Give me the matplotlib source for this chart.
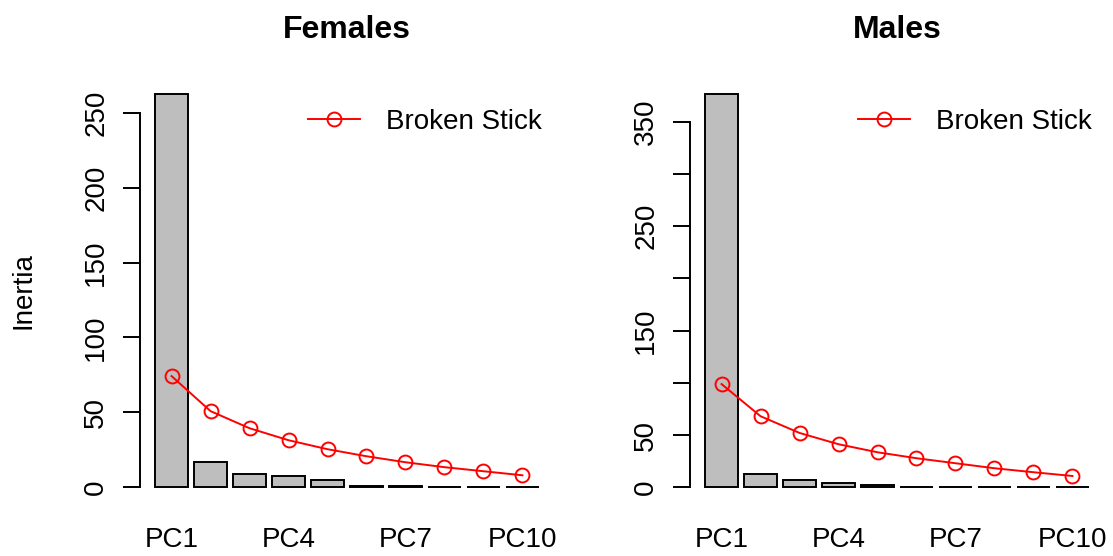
import numpy as np
import matplotlib.pyplot as plt

plt.rcParams['font.family'] = ['Liberation Sans', 'DejaVu Sans']

# data
components = ['PC1', 'PC2', 'PC3', 'PC4', 'PC5', 'PC6', 'PC7', 'PC8', 'PC9', 'PC10']
females_inertia = [262.7, 16.7, 8.7, 7.3, 4.9, 0.8, 0.6, 0.4, 0.3, 0.2]
females_stick = [74.2, 50.8, 39.4, 31.4, 25.4, 20.7, 16.7, 13.4, 10.7, 8.0]
males_inertia = [376.8, 12.5, 7.3, 4.2, 2.2, 0.6, 0.5, 0.4, 0.3, 0.2]
males_stick = [98.8, 68.0, 52.0, 41.2, 33.5, 27.8, 23.0, 18.2, 14.4, 10.8]

females_ticks = [0, 50, 100, 150, 200, 250]
females_ticklabels = ['0', '50', '100', '150', '200', '250']
males_ticks = [0, 50, 100, 150, 200, 250, 300, 350]
males_ticklabels = ['0', '50', '', '150', '', '250', '', '350']

FS = 20
LW = 1.4


def draw_panel(ax, inertia, stick, ticks, ticklabels, title, ylabel=None):
    n = len(inertia)
    # R barplot layout: width 1, space 0.2
    x = 0.7 + 1.2 * np.arange(n)
    ax.bar(x, inertia, width=1.0, color='#bebebe', edgecolor='black', linewidth=LW)
    ax.plot(x, stick, color='red', linewidth=LW, marker='o', markersize=10,
            markerfacecolor='none', markeredgecolor='red', markeredgewidth=LW,
            label='Broken Stick')

    xl = (0.2, 1.2 * n)
    dx = (xl[1] - xl[0]) * 0.04
    ax.set_xlim(xl[0] - dx, xl[1] + dx)
    ymax = max(inertia)
    ax.set_ylim(-0.04 * ymax, ymax * 1.04)

    for s in ['top', 'right', 'bottom']:
        ax.spines[s].set_visible(False)
    ax.spines['left'].set_bounds(ticks[0], ticks[-1])
    ax.spines['left'].set_linewidth(LW)

    ax.set_yticks(ticks)
    ax.set_yticklabels(ticklabels, rotation=90, va='center', fontsize=FS)
    ax.tick_params(axis='y', length=12.2, width=LW, pad=10)

    ax.set_xticks(x[::3])
    ax.set_xticklabels(components[::3], fontsize=FS)
    ax.tick_params(axis='x', length=0, pad=17)

    ax.set_title(title, fontsize=23, fontweight='bold', pad=29)
    if ylabel:
        ax.set_ylabel(ylabel, fontsize=FS)
        ax.yaxis.set_label_coords(-0.25, 0.5)

    ax.legend(loc='center left', bbox_to_anchor=(0.407, 0.897), frameon=False,
              fontsize=FS, handlelength=1.85, handletextpad=0.93,
              borderpad=0, borderaxespad=0)


fig = plt.figure(figsize=(11.13, 5.56), dpi=100)
ax1 = fig.add_axes([140 / 1113, 1 - 503 / 556, 414 / 1113, 425 / 556])
ax2 = fig.add_axes([690 / 1113, 1 - 503 / 556, 414 / 1113, 425 / 556])

draw_panel(ax1, females_inertia, females_stick, females_ticks, females_ticklabels,
           'Females', ylabel='Inertia')
draw_panel(ax2, males_inertia, males_stick, males_ticks, males_ticklabels, 'Males')

fig.savefig('out.png', dpi=100)
